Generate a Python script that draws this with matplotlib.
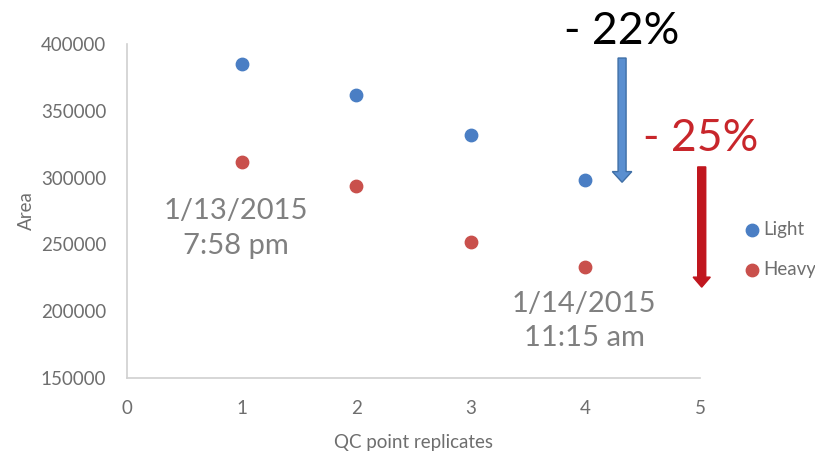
import numpy as np
import matplotlib.pyplot as plt
from matplotlib.patches import FancyArrow

plt.rcParams['font.family'] = ['Lato', 'DejaVu Sans']

# QC replicate measurements
replicates = [1, 2, 3, 4]
light_area = [385000, 362000, 332000, 298000]
heavy_area = [312000, 293500, 252000, 233000]

x_ticks = [0, 1, 2, 3, 4, 5]
y_ticks = [150000, 200000, 250000, 300000, 350000, 400000]

start_label = '1/13/2015\n7:58 pm'
end_label = '1/14/2015\n11:15 am'
light_drop = '- 22%'
heavy_drop = '- 25%'

BLUE = '#4a7ec4'
RED = '#c9504c'
GRAY = '#6e6e6e'

fig = plt.figure(figsize=(8.15, 4.54), dpi=100)
ax = fig.add_axes([127 / 815, 1 - 378 / 454, 573 / 815, 334 / 454])

ax.scatter(replicates, light_area, s=80, color=BLUE, label='Light', zorder=3)
ax.scatter(replicates, heavy_area, s=80, color=RED, label='Heavy', zorder=3)

ax.set_xlim(0, 5)
ax.set_ylim(150000, 400000)
ax.set_xticks(x_ticks)
ax.set_yticks(y_ticks)
ax.tick_params(length=0, labelsize=13.5, labelcolor=GRAY, pad=16)
ax.tick_params(axis='y', pad=15)
for side in ['top', 'right']:
    ax.spines[side].set_visible(False)
for side in ['left', 'bottom']:
    ax.spines[side].set_color('#d0d0d0')
    ax.spines[side].set_linewidth(1.2)

ax.set_xlabel('QC point replicates', fontsize=13.5, color=GRAY, labelpad=12)
ax.set_ylabel('Area', fontsize=13.5, color=GRAY, labelpad=4)

# timestamps of first and last replicate
ax.text(0.95, 262000, start_label, fontsize=21, color='#808080',
        ha='center', va='center', multialignment='center', linespacing=1.4)
ax.text(3.99, 192500, end_label, fontsize=21, color='#808080',
        ha='center', va='center', multialignment='center', linespacing=1.4)

# drop arrows and percentages
ax.add_patch(FancyArrow(4.32, 389500, 0, -93000, width=0.07,
                        head_width=0.17, head_length=8000,
                        length_includes_head=True, facecolor='#5a8fd0',
                        edgecolor='#3f6fa6', linewidth=1, clip_on=False, zorder=4))
ax.add_patch(FancyArrow(5.015, 308000, 0, -90000, width=0.07,
                        head_width=0.15, head_length=7500,
                        length_includes_head=True, facecolor='#c0161e',
                        edgecolor='#c0161e', linewidth=1, clip_on=False, zorder=4))
ax.text(4.32, 409500, light_drop, fontsize=32, color='black',
        ha='center', va='center', clip_on=False)
ax.text(5.01, 329000, heavy_drop, fontsize=32, color='#c8262b',
        ha='center', va='center', clip_on=False)

ax.legend(loc='center left', bbox_to_anchor=(1.055, 0.385), frameon=False,
          fontsize=13.5, labelcolor=GRAY, handletextpad=0.0, labelspacing=1.2,
          handlelength=1.2, borderpad=0)

fig.savefig('out.png', dpi=100)
